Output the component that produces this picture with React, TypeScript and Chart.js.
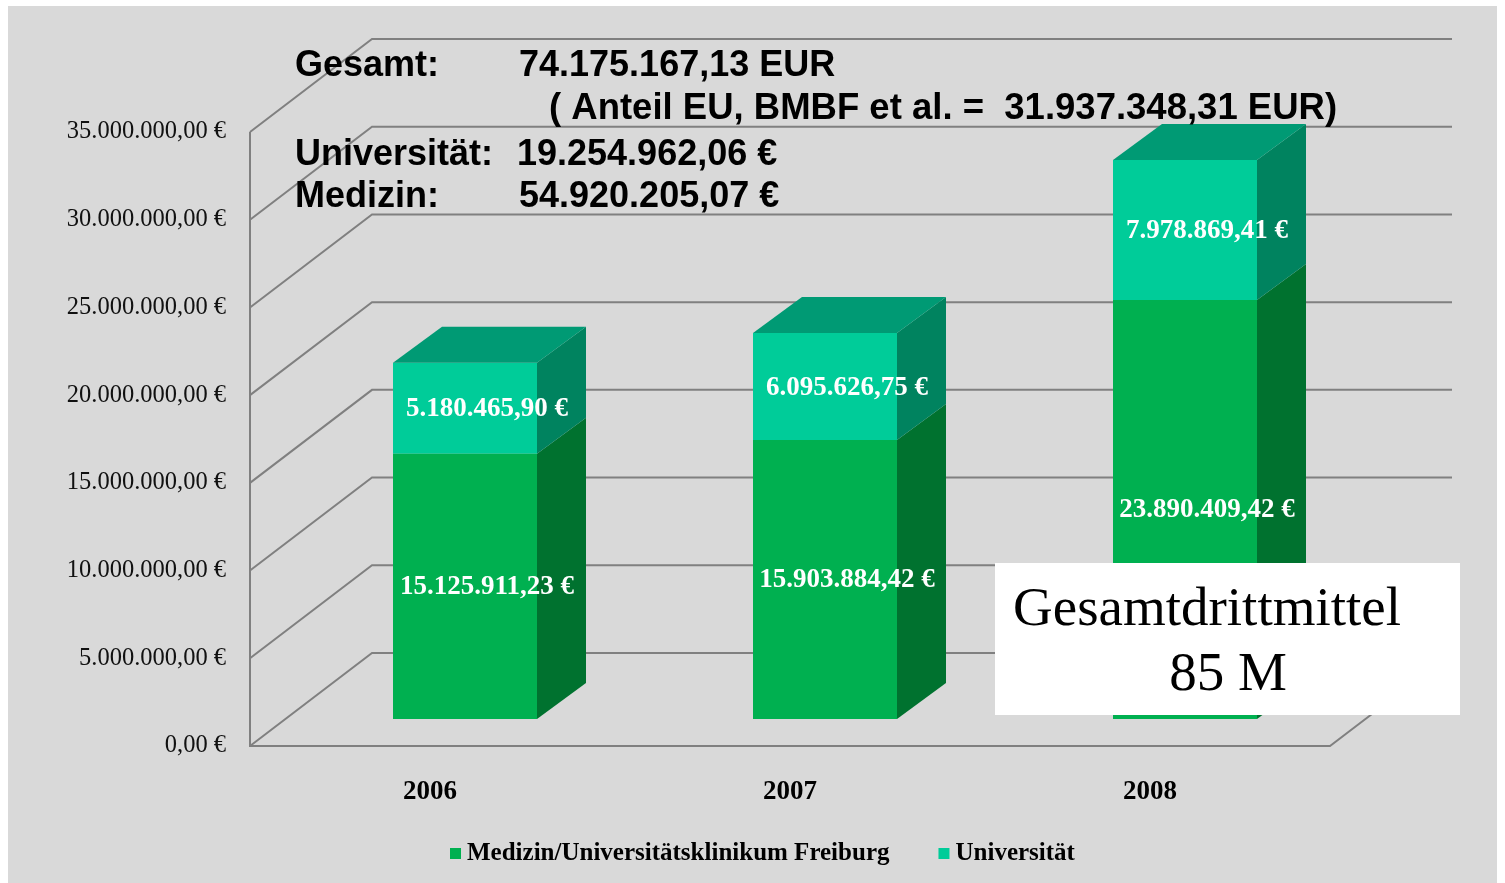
import React, { useEffect, useRef } from 'react';
import { Chart, registerables } from 'chart.js';
Chart.register(...registerables);

// ---- data ----
const years = ['2006', '2007', '2008'];
const medizin = [15125911.23, 15903884.42, 23890409.42];
const universitaet = [5180465.9, 6095626.75, 7978869.41];
const seriesNames = ['Medizin/Universitätsklinikum Freiburg', 'Universität'];
const yMin = 0;
const yMax = 35000000;
const yStep = 5000000;

const headerLeft = ['Gesamt:', 'Universität:', 'Medizin:'];
const headerRight = ['74.175.167,13 EUR', '19.254.962,06 €', '54.920.205,07 €'];
const headerNote = '( Anteil EU, BMBF et al. =  31.937.348,31 EUR)';
const boxLines = ['Gesamtdrittmittel', '85 M'];

// ---- styles ----
const W = 1489;
const H = 877;
const BG = '#d9d9d9';
const GRID = '#808080';
const frontColors = ['#00b050', '#00cc99'];
const sideColors = ['#00722f', '#00835f'];
const topColors = ['#008a40', '#009a74'];
const DX = 122; // wall depth
const DY = -93;
const BX = 35; // bar front plane offset
const BY = -27;
const DX2 = 49; // bar depth
const DY2 = -36;

function fmtEUR(v: number): string {
  const [i, d] = v.toFixed(2).split('.');
  return i.replace(/\B(?=(\d{3})+(?!\d))/g, '.') + ',' + d + ' €';
}

const threeD = {
  id: 'threeD',
  beforeDatasetsDraw(chart: any) {
    const { ctx, chartArea, scales } = chart;
    const { left, right, top, bottom } = chartArea;
    const y = scales.y;
    ctx.save();
    ctx.strokeStyle = GRID;
    ctx.lineWidth = 2;
    ctx.lineJoin = 'miter';
    y.ticks.forEach((t: any) => {
      const py = y.getPixelForValue(t.value);
      ctx.beginPath();
      ctx.moveTo(left, py);
      ctx.lineTo(left + DX, py + DY);
      ctx.lineTo(right + DX, py + DY);
      ctx.stroke();
    });
    ctx.beginPath();
    ctx.moveTo(left, top);
    ctx.lineTo(left, bottom);
    ctx.lineTo(right, bottom);
    ctx.lineTo(right + DX, bottom + DY);
    ctx.stroke();
    ctx.restore();
    ctx.save();
    ctx.translate(BX, BY);
  },
  afterDatasetsDraw(chart: any) {
    const { ctx } = chart;
    ctx.restore();
    const n = chart.data.datasets.length;
    chart.data.datasets.forEach((ds: any, di: number) => {
      const meta = chart.getDatasetMeta(di);
      meta.data.forEach((bar: any) => {
        const { x, y, base, width } = bar.getProps(['x', 'y', 'base', 'width'], true);
        const l = x - width / 2 + BX;
        const r = x + width / 2 + BX;
        const t = Math.min(y, base) + BY;
        const b = Math.max(y, base) + BY;
        ctx.fillStyle = sideColors[di];
        ctx.beginPath();
        ctx.moveTo(r, t);
        ctx.lineTo(r + DX2, t + DY2);
        ctx.lineTo(r + DX2, b + DY2);
        ctx.lineTo(r, b);
        ctx.closePath();
        ctx.fill();
        if (di === n - 1) {
          ctx.fillStyle = topColors[di];
          ctx.beginPath();
          ctx.moveTo(l, t);
          ctx.lineTo(l + DX2, t + DY2);
          ctx.lineTo(r + DX2, t + DY2);
          ctx.lineTo(r, t);
          ctx.closePath();
          ctx.fill();
        }
      });
    });
    // value labels
    ctx.save();
    ctx.font = 'bold 27px "Liberation Serif"';
    ctx.fillStyle = '#ffffff';
    ctx.textAlign = 'center';
    ctx.textBaseline = 'middle';
    chart.data.datasets.forEach((ds: any, di: number) => {
      const meta = chart.getDatasetMeta(di);
      meta.data.forEach((bar: any, i: number) => {
        const { x, y, base } = bar.getProps(['x', 'y', 'base'], true);
        ctx.fillText(fmtEUR(ds.data[i]), x + BX + 22, (y + base) / 2 + BY + 1);
      });
    });
    ctx.restore();
  },
  afterDraw(chart: any) {
    const { ctx } = chart;
    ctx.save();
    // legend
    ctx.font = 'bold 25px "Liberation Serif"';
    ctx.textBaseline = 'middle';
    ctx.textAlign = 'left';
    let lx = 442;
    const ly = 848;
    chart.data.datasets.forEach((ds: any) => {
      ctx.fillStyle = ds.backgroundColor;
      ctx.fillRect(lx, ly - 6, 11, 11);
      ctx.fillStyle = '#000';
      ctx.fillText(ds.label, lx + 17, ly);
      lx += 17 + ctx.measureText(ds.label).width + 49;
    });
    // header
    ctx.fillStyle = '#000';
    ctx.font = 'bold 36px "Liberation Sans"';
    const rowsY = [60, 149, 191];
    const leftX = [287, 287, 287];
    const rightX = [511, 509, 511];
    headerLeft.forEach((s, i) => ctx.fillText(s, leftX[i], rowsY[i]));
    headerRight.forEach((s, i) => ctx.fillText(s, rightX[i], rowsY[i]));
    ctx.font = 'bold 36.5px "Liberation Sans"';
    ctx.fillText(headerNote, 541, 103);
    // white box
    ctx.fillStyle = '#ffffff';
    ctx.fillRect(987, 557, 465, 152);
    ctx.fillStyle = '#000';
    ctx.font = '55px "Liberation Serif"';
    ctx.textAlign = 'left';
    ctx.fillText(boxLines[0], 1005, 605);
    ctx.textAlign = 'center';
    ctx.fillText(boxLines[1], 1220, 670);
    ctx.restore();
  },
};

export default function App() {
  const ref = useRef<HTMLCanvasElement | null>(null);
  useEffect(() => {
    const canvas = ref.current;
    if (!canvas) return;
    const chart = new Chart(canvas, {
      type: 'bar',
      data: {
        labels: years,
        datasets: [
          { label: seriesNames[0], data: medizin, backgroundColor: frontColors[0], borderWidth: 0, clip: false as any },
          { label: seriesNames[1], data: universitaet, backgroundColor: frontColors[1], borderWidth: 0, clip: false as any },
        ],
      },
      options: {
        responsive: false,
        maintainAspectRatio: false,
        animation: false,
        devicePixelRatio: 1,
        layout: { padding: { top: 126, right: 167, bottom: 0, left: 0 } },
        datasets: { bar: { categoryPercentage: 1, barPercentage: 0.4 } },
        plugins: {
          tooltip: { enabled: false },
          legend: { display: false },
        },
        scales: {
          x: {
            stacked: true,
            grid: { display: false, drawTicks: false },
            border: { display: false },
            ticks: { color: '#000', padding: 30, font: { family: '"Liberation Serif"', size: 27, weight: 'bold' } },
            afterFit: (s: any) => { s.height = 137; },
          },
          y: {
            stacked: true,
            min: yMin,
            max: yMax,
            grid: { display: false, drawTicks: false },
            border: { display: false },
            ticks: {
              stepSize: yStep,
              color: '#111',
              padding: 24,
              font: { family: '"Liberation Serif"', size: 24.5 },
              callback: (v: any) => fmtEUR(Number(v)),
            },
            afterFit: (s: any) => { s.width = 242; },
          },
        },
      },
      plugins: [threeD],
    });
    return () => chart.destroy();
  }, []);
  return (
    <div style={{ position: 'absolute', left: 8, top: 6, width: W, height: H, background: BG }}>
      <canvas ref={ref} width={W} height={H} style={{ display: 'block', width: W, height: H }} />
    </div>
  );
}
